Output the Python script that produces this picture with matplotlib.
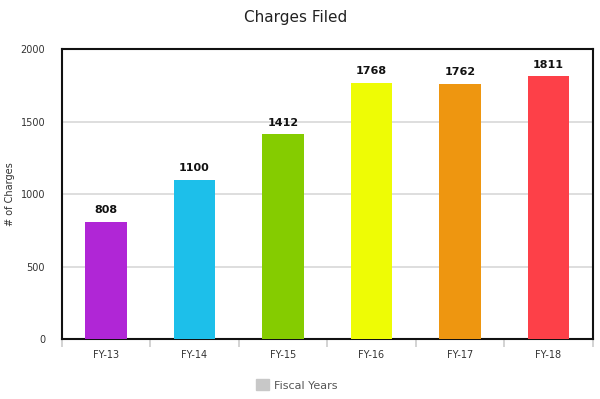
import matplotlib.pyplot as plt
import matplotlib.patches as mpatches
import numpy as np

# data
years = ['FY-13', 'FY-14', 'FY-15', 'FY-16', 'FY-17', 'FY-18']
charges = [808, 1100, 1412, 1768, 1762, 1811]
colors = ['#b026d6', '#1dbfea', '#85cc00', '#eefc05', '#ee9610', '#fd4048']

fig = plt.figure(figsize=(6, 3.99), dpi=100)
ax = fig.add_axes([0.103, 0.150, 0.885, 0.727])

x = np.arange(len(years))
ax.bar(x, charges, width=0.47, color=colors, zorder=3)

for xi, v in zip(x, charges):
    ax.text(xi, v + 45, str(v), ha='center', va='bottom', fontsize=8,
            fontweight='bold', color='#111111')

ax.set_xlim(-0.5, len(years) - 0.5)
ax.set_ylim(0, 2000)
ax.set_yticks([0, 500, 1000, 1500, 2000])
ax.set_xticks(x)
ax.set_xticklabels(years, fontsize=7, color='#333333')
ax.tick_params(axis='y', labelsize=7, colors='#333333', length=0, pad=12)
ax.tick_params(axis='x', length=0, pad=8)
ax.yaxis.grid(True, color='#d8d8d8', linewidth=1.2, zorder=0)
ax.set_axisbelow(True)

# small grey separators between categories below the axis
ax.set_xticks(np.arange(len(years) + 1) - 0.5, minor=True)
ax.tick_params(axis='x', which='minor', length=6, color='#cccccc', width=1.2)

for s in ax.spines.values():
    s.set_linewidth(1.5)
    s.set_color('#111111')

ax.set_ylabel('# of Charges', fontsize=7, color='#333333', labelpad=4)
fig.text(0.492, 0.955, 'Charges Filed', ha='center', va='center', fontsize=11,
         color='#222222')

handle = mpatches.Patch(color='#c8c8c8', label='Fiscal Years')
leg = fig.legend(handles=[handle], loc='center', bbox_to_anchor=(0.495, 0.035),
                 frameon=False, fontsize=8, handlelength=1.1, handleheight=1.1,
                 handletextpad=0.5)
for t in leg.get_texts():
    t.set_color('#555555')

fig.savefig('out.png', dpi=100)
